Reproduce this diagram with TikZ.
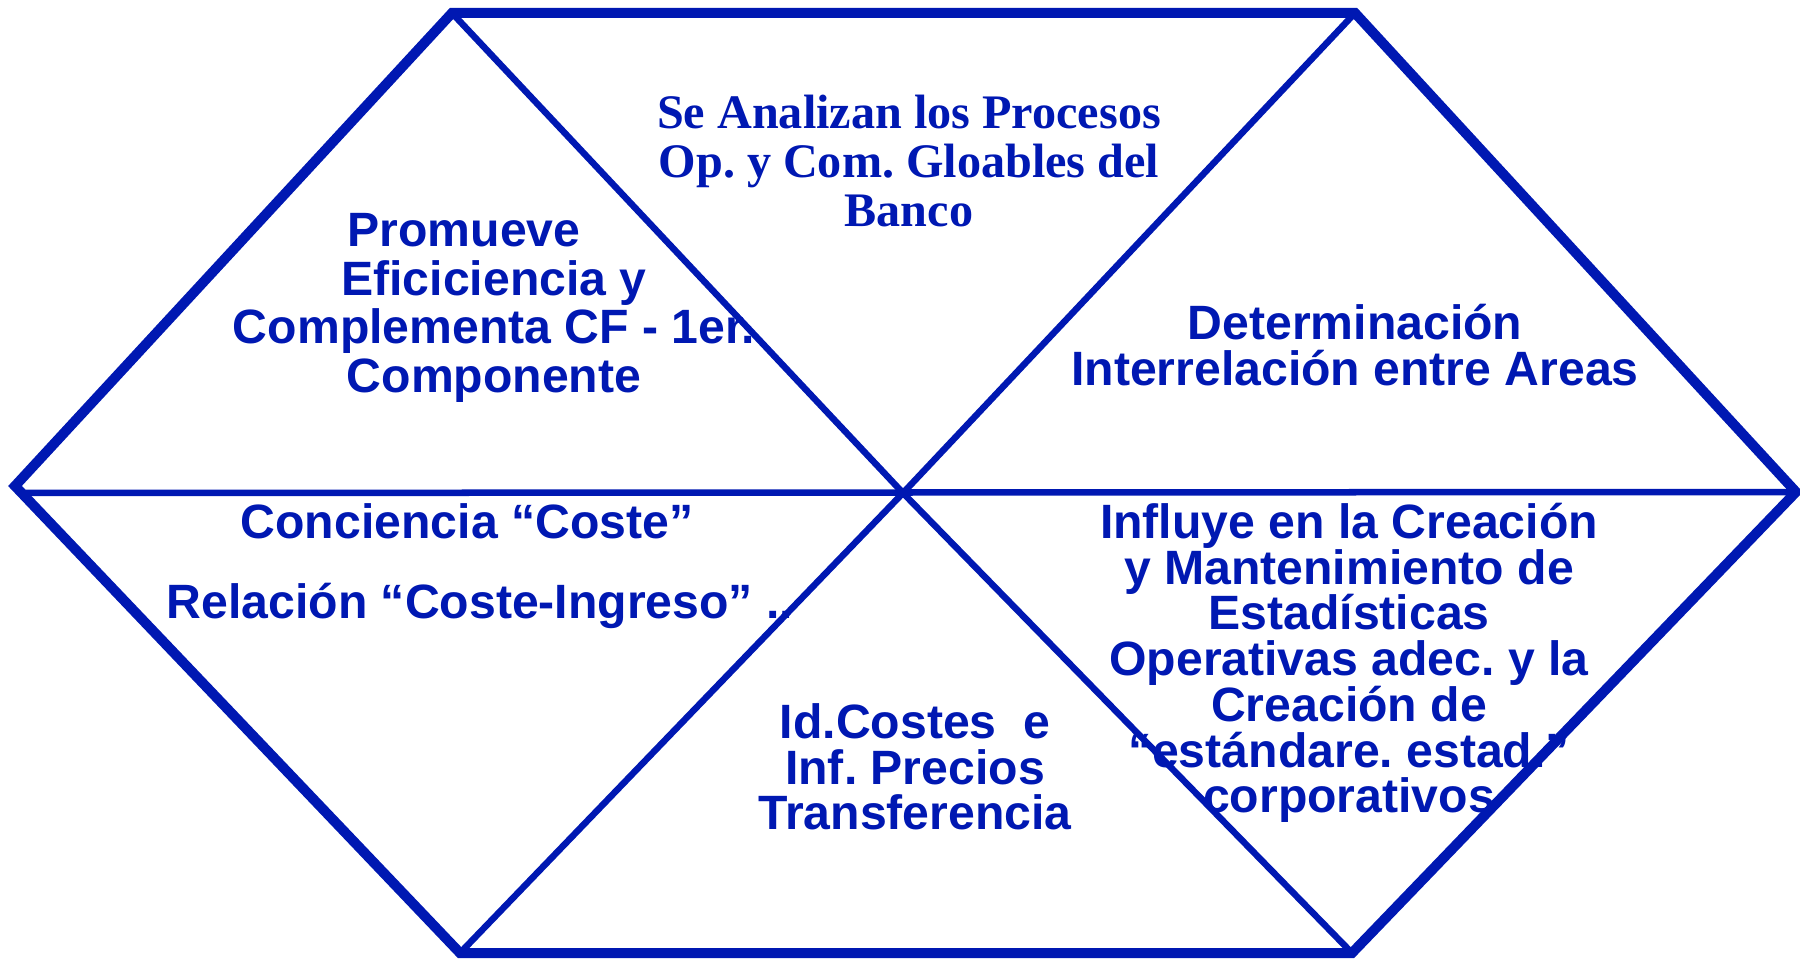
\documentclass[tikz,border=0pt]{standalone}
\usepackage{fontspec}
\setmainfont{Liberation Sans}
\newfontfamily\timesfont{Liberation Serif}
\usepackage{tikz}
\frenchspacing
\definecolor{hexblue}{RGB}{0,24,178}
\tikzset{rim/.style={hexblue, line width=0.1cm},
  spoke/.style={hexblue, line width=0.065cm},
  blurb/.style={text=hexblue, align=center, inner sep=0pt,
      font=\bfseries\fontsize{13.7}{13}\selectfont}}

\begin{document}
\begin{tikzpicture}[x=0.01cm, y=-0.01cm]
		\useasboundingbox (0,0) rectangle (1800,961);
		\coordinate (topleft) at (452,13);
		\coordinate (topright) at (1355,13);
		\coordinate (right) at (1796,492);
		\coordinate (botright) at (1352,953);
		\coordinate (botleft) at (460,953);
		\coordinate (left) at (15,486);
		\coordinate (mid) at (903,493);
		\coordinate (hleft) at (22,493);
		\node[blurb, font=\timesfont\bfseries\fontsize{13.7}{14}\selectfont] (analiza) at (909,161)
			{Se Analizan los Procesos\\Op. y Com. Gloables del\\Banco};
		\node[blurb, font=\bfseries\fontsize{13.7}{13.8}\selectfont] (promueve) at (494,308)
			{Promueve\kern0.6cm\\Eficiciencia y\\Complementa CF - 1er.\\Componente};
		\node[blurb] (determina) at (1355,345)
			{Determinación\\Interrelación entre Areas};
		\node[blurb] (conciencia) at (480,566)
			{Conciencia “Coste”\kern0.26cm\\[0.34cm]Relación “Coste-Ingreso” ..};
		\node[blurb] (costes) at (915,767)
			{Id.Costes\ \ e\\Inf. Precios\\Transferencia};
		\node[blurb] (influye) at (1349,663)
			{Influye en la Creación\\y Mantenimiento de\\Estadísticas\\Operativas adec. y la\\Creación de\\“estándare. estad.”\\corporativos};
		\draw[spoke] (hleft) to (right);
		\draw[spoke] (topleft) to (mid) to (botright);
		\draw[spoke] (topright) to (mid) to (botleft);
		\draw[rim] (left) -- (topleft) -- (topright) -- (right) -- (botright) -- (botleft) -- cycle;
		\end{tikzpicture}
\end{document}
